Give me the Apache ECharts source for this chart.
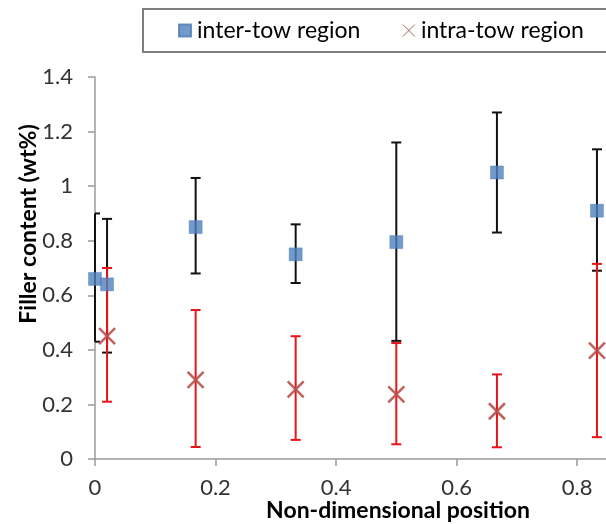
<!DOCTYPE html>
<html>
<head>
<meta charset="utf-8">
<script src="https://cdn.jsdelivr.net/npm/echarts@6/dist/echarts.min.js"></script>
<style>html,body{margin:0;padding:0;background:#fff;}#c{width:606px;height:524px;}</style>
</head>
<body>
<div id="c"></div>
<script>
// Data
var interX    = [0, 0.02, 0.167, 0.333, 0.5, 0.667, 0.833];
var interMean = [0.66, 0.64, 0.85, 0.75, 0.795, 1.05, 0.91];
var interLow  = [0.43, 0.39, 0.68, 0.645, 0.433, 0.83, 0.69];
var interHigh = [0.90, 0.88, 1.03, 0.86, 1.16, 1.27, 1.135];

var intraX    = [0.02, 0.167, 0.333, 0.5, 0.667, 0.833];
var intraMean = [0.45, 0.29, 0.255, 0.237, 0.175, 0.397];
var intraLow  = [0.21, 0.044, 0.07, 0.054, 0.043, 0.08];
var intraHigh = [0.70, 0.546, 0.45, 0.425, 0.31, 0.715];

var seriesNames = ['inter-tow region', 'intra-tow region'];
var xTitle = 'Non-dimensional position';
var yTitle = 'Filler content (wt%)';

var FONT = 'Lato, "Open Sans", sans-serif';

function pairs(xs, ys) { return xs.map(function (x, i) { return [x, ys[i]]; }); }
function triples(xs, lo, hi) { return xs.map(function (x, i) { return [x, lo[i], hi[i]]; }); }

function errRender(color) {
  return function (params, api) {
    var x = api.value(0);
    var pLo = api.coord([x, api.value(1)]);
    var pHi = api.coord([x, api.value(2)]);
    var cs = params.coordSys;
    var half = 5;
    var l = Math.max(pLo[0] - half, cs.x);
    var r = Math.min(pLo[0] + half, cs.x + cs.width);
    var st = { stroke: color, lineWidth: 2 };
    return {
      type: 'group',
      children: [
        { type: 'line', shape: { x1: pLo[0], y1: pLo[1], x2: pHi[0], y2: pHi[1] }, style: st },
        { type: 'line', shape: { x1: l, y1: pHi[1], x2: r, y2: pHi[1] }, style: st },
        { type: 'line', shape: { x1: l, y1: pLo[1], x2: r, y2: pLo[1] }, style: st }
      ]
    };
  };
}

var chart = echarts.init(document.getElementById('c'), null, { renderer: 'canvas' });
chart.setOption({
  animation: false,
  backgroundColor: '#fff',
  grid: { left: 95, right: 0, top: 77, bottom: 65, containLabel: false },
  legend: {
    left: 143, top: 9,
    padding: [9, 0, 9, 35],
    orient: 'horizontal',
    itemWidth: 14, itemHeight: 12, itemGap: 42,
    textStyle: { fontFamily: FONT, fontSize: 23, color: '#000', lineHeight: 25 },
    data: [
      { name: seriesNames[0], icon: 'path://M0,0h12v12h-12z' },
      { name: seriesNames[1], icon: 'path://M0,0L12,12M12,0L0,12', itemStyle: { color: 'rgba(0,0,0,0)', borderColor: '#9a5552', borderWidth: 1, opacity: 0.9 } }
    ]
  },
  xAxis: {
    type: 'value', min: 0, max: 0.848, interval: 0.2,
    axisLine: { show: true, onZero: false, lineStyle: { color: '#9a9a9a', width: 1.5 } },
    axisTick: { show: true, length: 7, lineStyle: { color: '#9a9a9a', width: 1.5 } },
    axisLabel: { showMaxLabel: false, margin: 18, fontFamily: FONT, fontSize: 22, color: '#333' },
    splitLine: { show: false }
  },
  yAxis: {
    type: 'value', min: 0, max: 1.4, interval: 0.2,
    axisLine: { show: true, lineStyle: { color: '#9a9a9a', width: 1.5 } },
    axisTick: { show: true, length: 7, lineStyle: { color: '#9a9a9a', width: 1.5 } },
    axisLabel: { margin: 22, fontFamily: FONT, fontSize: 22, color: '#333' },
    splitLine: { show: false }
  },
  graphic: [
    { type: 'rect', shape: { x: 143, y: 9, width: 480, height: 43 }, style: { fill: 'none', stroke: '#7f7f7f', lineWidth: 2 }, z: 10 },
    { type: 'text', x: 398, y: 511, style: { text: xTitle, font: 'bold 23px ' + FONT, fill: '#000', align: 'center', verticalAlign: 'middle' } },
    { type: 'text', x: 29, y: 224, rotation: Math.PI / 2, style: { text: yTitle, font: 'bold 23px ' + FONT, fill: '#000', align: 'center', verticalAlign: 'middle' } }
  ],
  series: [
    {
      type: 'custom', name: 'interErr', renderItem: errRender('#111'),
      data: triples(interX, interLow, interHigh), z: 1, silent: true,
      encode: { x: 0, y: [1, 2] }
    },
    {
      type: 'custom', name: 'intraErr', renderItem: errRender('#e8141a'),
      data: triples(intraX, intraLow, intraHigh), z: 2, silent: true,
      encode: { x: 0, y: [1, 2] }
    },
    {
      type: 'scatter', name: seriesNames[0], data: pairs(interX, interMean),
      symbol: 'rect', symbolSize: 13, clip: false, z: 5,
      itemStyle: { color: '#4f81bd', borderColor: '#4a7ab5', borderWidth: 0.5 }
    },
    {
      type: 'scatter', name: seriesNames[1], data: pairs(intraX, intraMean),
      symbol: 'path://M0,0L10,10M10,0L0,10', symbolSize: 16, z: 6,
      itemStyle: { color: 'rgba(0,0,0,0)', borderColor: '#b9504c', borderWidth: 2.5, opacity: 0.9 }
    }
  ]
});
</script>
</body>
</html>
